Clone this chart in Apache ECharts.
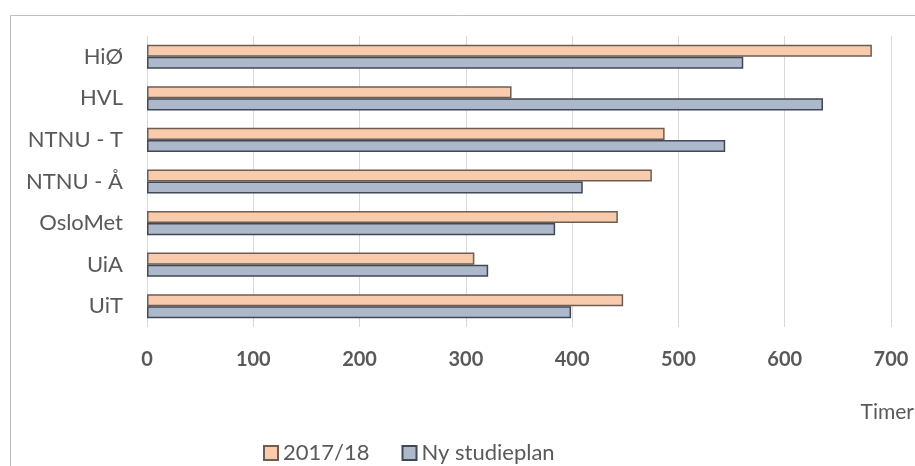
<!DOCTYPE html>
<html>
<head>
<meta charset="utf-8">
<script src="https://cdn.jsdelivr.net/npm/echarts@6/dist/echarts.min.js"></script>
<style>
    html, body { margin: 0; padding: 0; background: #fff; }
    #chart { width: 915px; height: 466px; }
</style>
</head>
<body>
<div id="chart"></div>
<script>
var categories = ['HiØ', 'HVL', 'NTNU - T', 'NTNU - Å', 'OsloMet', 'UiA', 'UiT'];
var seriesNames = ['2017/18', 'Ny studieplan'];
var values2017 = [682, 343, 487, 475, 443, 308, 448];
var valuesNy = [561, 636, 544, 410, 384, 321, 399];
var xTicks = [0, 100, 200, 300, 400, 500, 600, 700];

var chart = echarts.init(document.getElementById('chart'));
var font = 'Lato, "Open Sans", sans-serif';

chart.setOption({
    animation: false,
    textStyle: { fontFamily: font },
    graphic: [{
        type: 'rect',
        left: 8, top: 13,
        shape: { width: 920, height: 470 },
        style: { fill: 'none', stroke: '#bfbfbf', lineWidth: 1 }
    }, {
        type: 'text',
        right: 1, top: 402,
        style: { text: 'Timer', font: '21px ' + font, fill: '#595959' }
    }],
    legend: {
        left: 258, top: 437,
        itemWidth: 14, itemHeight: 14, itemGap: 32,
        icon: 'rect',
        textStyle: { fontSize: 22, color: '#595959', fontFamily: font },
        data: seriesNames
    },
    grid: { left: 147, right: 24, top: 36, bottom: 139 },
    xAxis: {
        type: 'value',
        min: 0, max: 700, interval: 100,
        axisLine: { show: false },
        axisTick: { show: false },
        splitLine: { lineStyle: { color: '#d9d9d9' } },
        axisLabel: {
            margin: 23, fontSize: 20, fontWeight: 'bold', color: '#595959',
            formatter: function (v) { return xTicks.indexOf(v) >= 0 ? String(v) : ''; }
        }
    },
    yAxis: {
        type: 'category',
        inverse: true,
        data: categories,
        axisLine: { show: false },
        axisTick: { show: false },
        axisLabel: { margin: 24, fontSize: 22, color: '#595959' }
    },
    series: [{
        name: seriesNames[0],
        type: 'bar',
        data: values2017,
        barGap: '0%',
        barCategoryGap: '42%',
        itemStyle: { color: '#f8cbad', borderColor: '#6e5d52', borderWidth: 1.5 }
    }, {
        name: seriesNames[1],
        type: 'bar',
        data: valuesNy,
        itemStyle: { color: '#adb9ca', borderColor: '#3f4856', borderWidth: 1.5 }
    }]
});
</script>
</body>
</html>
